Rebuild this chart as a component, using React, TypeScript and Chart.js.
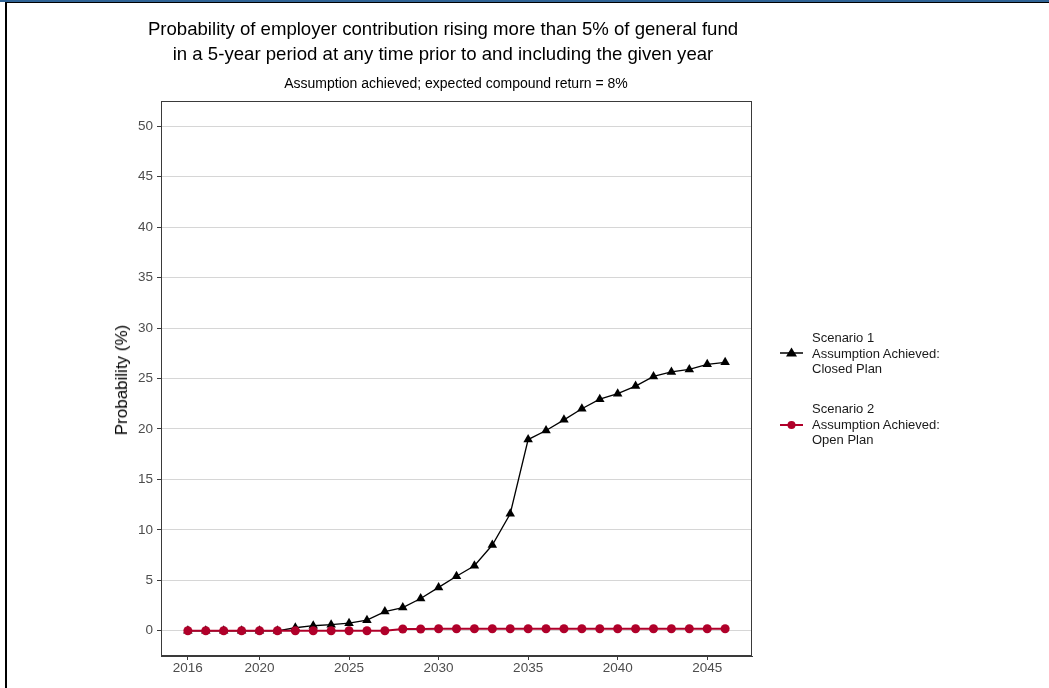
import React, { useEffect, useRef } from "react";
import { Chart, registerables } from "chart.js";

Chart.register(...registerables);

const years: number[] = [
  2016, 2017, 2018, 2019, 2020, 2021, 2022, 2023, 2024, 2025, 2026, 2027, 2028, 2029, 2030, 2031,
  2032, 2033, 2034, 2035, 2036, 2037, 2038, 2039, 2040, 2041, 2042, 2043, 2044, 2045, 2046,
];
const closedPlan: number[] = [
  0, 0, 0, 0, 0, 0, 0.3, 0.5, 0.6, 0.75, 1.05, 1.9, 2.3, 3.2, 4.3, 5.4,
  6.45, 8.5, 11.6, 18.95, 19.85, 20.9, 22.0, 22.95, 23.5, 24.25, 25.2, 25.65, 25.9, 26.4, 26.6,
];
const openPlan: number[] = [
  0, 0, 0, 0, 0, 0, 0, 0, 0, 0, 0, 0, 0.18, 0.18, 0.2, 0.2,
  0.2, 0.2, 0.2, 0.2, 0.2, 0.2, 0.2, 0.2, 0.2, 0.2, 0.2, 0.2, 0.2, 0.2, 0.2,
];
const xTicks: number[] = [2016, 2020, 2025, 2030, 2035, 2040, 2045];
const yTicks: number[] = [0, 5, 10, 15, 20, 25, 30, 35, 40, 45, 50];

const titleLines: string[] = [
  "Probability of employer contribution rising more than 5% of general fund",
  "in a 5-year period at any time prior to and including the given year",
];
const subtitle = "Assumption achieved; expected compound return = 8%";
const yTitle = "Probability (%)";
const series1Label: string[] = ["Scenario 1", "Assumption Achieved:", "Closed Plan"];
const series2Label: string[] = ["Scenario 2", "Assumption Achieved:", "Open Plan"];

const RED = "#B0002A";
const FONT = "'Liberation Sans', Arial, sans-serif";

const panelBorder = {
  id: "panelBorder",
  afterDatasetsDraw(chart: any) {
    const { ctx, chartArea } = chart;
    ctx.save();
    ctx.strokeStyle = "#3a3a3a";
    ctx.lineWidth = 1;
    ctx.strokeRect(
      Math.round(chartArea.left) + 0.5,
      Math.round(chartArea.top) + 0.5,
      Math.round(chartArea.right - chartArea.left) - 1,
      Math.round(chartArea.bottom - chartArea.top) - 1
    );
    ctx.restore();
  },
};

export default function App() {
  const ref = useRef<HTMLCanvasElement | null>(null);

  useEffect(() => {
    if (!ref.current) return;
    const chart = new Chart(ref.current, {
      type: "line",
      data: {
        datasets: [
          {
            label: series2Label.join(" "),
            data: years.map((y, i) => ({ x: y, y: openPlan[i] })),
            borderColor: RED,
            backgroundColor: RED,
            borderWidth: 2,
            pointStyle: "circle",
            pointRadius: 4.5,
            pointBorderWidth: 0,
            order: 0,
          },
          {
            label: series1Label.join(" "),
            data: years.map((y, i) => ({ x: y, y: closedPlan[i] })),
            borderColor: "#000000",
            backgroundColor: "#000000",
            borderWidth: 1.3,
            pointStyle: "triangle",
            pointRadius: 5.5,
            pointBorderWidth: 0,
            order: 1,
          },
        ],
      },
      options: {
        responsive: false,
        animation: false,
        devicePixelRatio: 1,
        layout: { padding: { top: 101, right: 297, bottom: 0, left: 0 } },
        plugins: {
          legend: { display: false },
          tooltip: { enabled: false },
          title: { display: false },
        },
        scales: {
          x: {
            type: "linear",
            min: 2014.5,
            max: 2047.5,
            afterBuildTicks: (scale: any) => {
              scale.ticks = xTicks.map((v) => ({ value: v }));
            },
            afterFit: (scale: any) => {
              scale.height = 32;
            },
            ticks: {
              callback: (v: any) => String(v),
              color: "#4d4d4d",
              font: { family: FONT, size: 13.5 },
              padding: 0,
              maxRotation: 0,
              autoSkip: false,
            },
            grid: {
              drawOnChartArea: false,
              drawTicks: true,
              tickLength: 4,
              tickColor: "#3a3a3a",
              tickWidth: 1,
            },
            border: { display: true, color: "#3a3a3a", width: 1 },
          },
          y: {
            type: "linear",
            min: -2.5,
            max: 52.5,
            afterBuildTicks: (scale: any) => {
              scale.ticks = yTicks.map((v) => ({ value: v }));
            },
            afterFit: (scale: any) => {
              scale.width = 161;
            },
            ticks: {
              callback: (v: any) => String(v),
              color: "#4d4d4d",
              font: { family: FONT, size: 13.5 },
              padding: 4,
              autoSkip: false,
            },
            grid: {
              color: "#d6d6d6",
              lineWidth: 1,
              drawTicks: true,
              tickLength: 4,
              tickColor: "#3a3a3a",
              tickWidth: 1,
            },
            border: { display: true, color: "#3a3a3a", width: 1 },
          },
        },
      },
      plugins: [panelBorder],
    });
    return () => chart.destroy();
  }, []);

  const legendText: React.CSSProperties = {
    position: "absolute",
    left: 812,
    fontFamily: FONT,
    fontSize: 13,
    lineHeight: "15.5px",
    color: "#1a1a1a",
    whiteSpace: "nowrap",
  };

  return (
    <div
      style={{
        position: "fixed",
        left: 0,
        top: 0,
        width: 1049,
        height: 688,
        background: "#ffffff",
        overflow: "hidden",
      }}
    >
      <div style={{ position: "absolute", left: 0, top: 0, width: 1049, height: 2, background: "#2f6395" }} />
      <div style={{ position: "absolute", left: 5, top: 2, width: 1044, height: 1, background: "#000" }} />
      <div style={{ position: "absolute", left: 5, top: 2, width: 2, height: 686, background: "#000" }} />
      <canvas ref={ref} width={1049} height={688} style={{ position: "absolute", left: 0, top: 0, width: 1049, height: 688 }} />
      <div
        style={{
          position: "absolute",
          left: 143,
          width: 600,
          top: 16,
          textAlign: "center",
          fontFamily: FONT,
          fontSize: 18.6,
          lineHeight: "25px",
          color: "#000",
          whiteSpace: "nowrap",
        }}
      >
        {titleLines.map((t) => (
          <div key={t}>{t}</div>
        ))}
      </div>
      <div
        style={{
          position: "absolute",
          left: 251,
          width: 410,
          top: 75,
          textAlign: "center",
          fontFamily: FONT,
          fontSize: 14,
          lineHeight: "16px",
          color: "#000",
          whiteSpace: "nowrap",
        }}
      >
        {subtitle}
      </div>
      <div
        style={{
          position: "absolute",
          left: 122,
          top: 380,
          transform: "translate(-50%, -50%) rotate(-90deg)",
          fontFamily: FONT,
          fontSize: 17,
          lineHeight: "20px",
          color: "#000",
          whiteSpace: "nowrap",
        }}
      >
        {yTitle}
      </div>
      <svg style={{ position: "absolute", left: 778, top: 343 }} width={28} height={20}>
        <line x1={2} y1={10} x2={25} y2={10} stroke="#000" strokeWidth={1.5} />
        <polygon points="13.5,4.5 19,13.5 8,13.5" fill="#000" />
      </svg>
      <div style={{ ...legendText, top: 330 }}>
        {series1Label.map((t) => (
          <div key={t}>{t}</div>
        ))}
      </div>
      <svg style={{ position: "absolute", left: 778, top: 415 }} width={28} height={20}>
        <line x1={2} y1={10} x2={25} y2={10} stroke={RED} strokeWidth={2} />
        <circle cx={13.5} cy={10} r={4} fill={RED} />
      </svg>
      <div style={{ ...legendText, top: 401 }}>
        {series2Label.map((t) => (
          <div key={t}>{t}</div>
        ))}
      </div>
    </div>
  );
}
